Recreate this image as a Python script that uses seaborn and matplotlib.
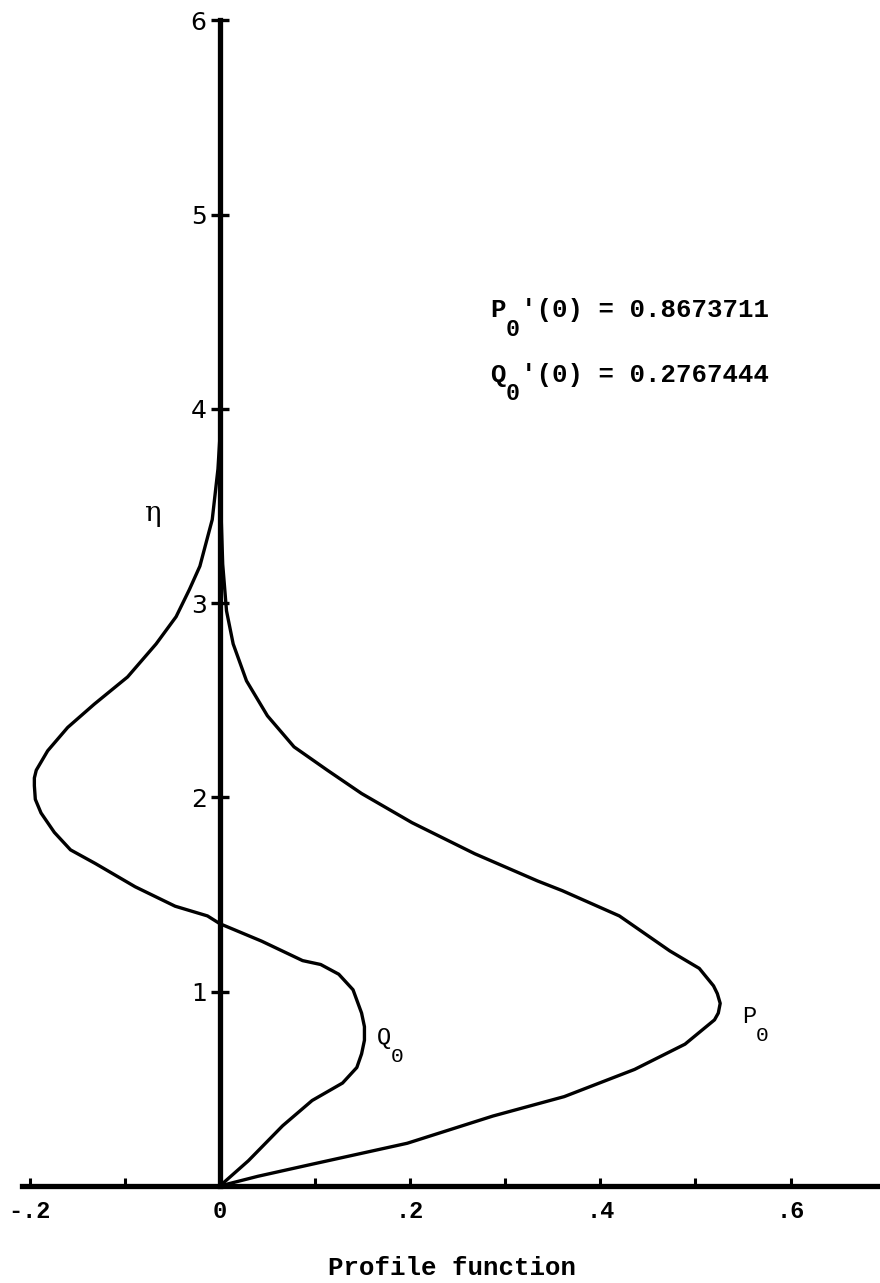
import numpy as np
import pandas as pd
import matplotlib
matplotlib.use("Agg")
import matplotlib.pyplot as plt
import seaborn as sns

# Similarity coordinate eta and the two profile functions P0(eta), Q0(eta)
eta_p = [0.00, 0.05, 0.11, 0.22, 0.36, 0.46, 0.60, 0.73, 0.855, 0.89, 0.94, 0.99,
         1.03, 1.12, 1.21, 1.39, 1.52, 1.57, 1.71, 1.87, 2.02, 2.14, 2.26, 2.42,
         2.60, 2.79, 2.96, 3.20, 3.50, 4.00, 6.00]
p0 = [0.000, 0.040, 0.095, 0.197, 0.287, 0.362, 0.436, 0.489, 0.520, 0.524, 0.526, 0.523,
      0.519, 0.504, 0.473, 0.420, 0.360, 0.334, 0.268, 0.202, 0.149, 0.113, 0.078, 0.050,
      0.028, 0.014, 0.007, 0.003, 0.001, 0.000, 0.000]

eta_q = [0.00, 0.13, 0.31, 0.44, 0.53, 0.61, 0.68, 0.75, 0.82, 0.89, 1.01, 1.09,
         1.14, 1.16, 1.26, 1.35, 1.39, 1.44, 1.54, 1.66, 1.73, 1.82, 1.92, 1.99,
         2.06, 2.10, 2.14, 2.24, 2.36, 2.48, 2.62, 2.79, 2.93, 3.07, 3.19, 3.43,
         3.69, 3.85, 4.50, 6.00]
q0 = [0.000, 0.030, 0.066, 0.097, 0.129, 0.144, 0.149, 0.152, 0.152, 0.149, 0.140, 0.125,
      0.106, 0.087, 0.044, 0.000, -0.013, -0.047, -0.089, -0.131, -0.157, -0.174, -0.188, -0.194,
      -0.195, -0.195, -0.193, -0.181, -0.160, -0.132, -0.097, -0.067, -0.046, -0.032, -0.021, -0.008,
      -0.002, 0.000, 0.000, 0.000]

x_ticks = [-0.2, -0.1, 0.0, 0.1, 0.2, 0.3, 0.4, 0.5, 0.6]
x_tick_labels = ["-.2", "", "0", "", ".2", "", ".4", "", ".6"]
y_ticks = [1, 2, 3, 4, 5, 6]
y_tick_labels = ["1", "2", "3", "4", "5", "6"]

p0_slope_text = "'(0) = 0.8673711"
q0_slope_text = "'(0) = 0.2767444"
x_title = "Profile function"

sns.set_style("ticks")
plt.rcParams["font.family"] = ["Liberation Mono", "DejaVu Sans"]
plt.rcParams.update({
    "text.color": "black",
    "axes.edgecolor": "black",
    "axes.labelcolor": "black",
    "xtick.color": "black",
    "ytick.color": "black",
})

fig = plt.figure(figsize=(8.8, 12.83), dpi=100)
ax = fig.add_axes([22 / 880, (1283 - 1186) / 1283, 858 / 880, (1186 - 10.5) / 1283])

df_p = pd.DataFrame({"eta": eta_p, "value": p0})
df_q = pd.DataFrame({"eta": eta_q, "value": q0})
for df in (df_p, df_q):
    line = sns.lineplot(data=df, x="value", y="eta", orient="y", sort=False, estimator=None,
                        color="black", linewidth=2.4, ax=ax)
for ln in ax.lines:
    ln.set_solid_joinstyle("round")

ax.set_xlim(-0.208, 0.694)
ax.set_ylim(0, 6.05)

# axes drawn as heavy lines: horizontal along eta = 0, vertical along value = 0
for side in ("top", "right"):
    ax.spines[side].set_visible(False)
ax.spines["bottom"].set_linewidth(3.8)
ax.spines["left"].set_position(("data", 0))
ax.spines["left"].set_bounds(0, 6)
ax.spines["left"].set_linewidth(3.8)
ax.spines["left"].set_zorder(5)

ax.set_xticks(x_ticks)
ax.set_xticklabels(x_tick_labels, fontsize=17, fontweight="bold")
ax.tick_params(axis="x", direction="in", length=6, width=2.2, pad=10)
ax.set_yticks(y_ticks)
ax.set_yticklabels(y_tick_labels, fontsize=18, family="DejaVu Sans")
ax.tick_params(axis="y", direction="inout", length=13, width=2.4, pad=3)
ax.set_xlabel("")
ax.set_ylabel("")


def sub_label(x, y, main, sub, rest="", size=18, weight="normal"):
    cw = 0.6 * size
    kw = dict(xycoords="data", textcoords="offset points", va="baseline", ha="left",
              fontweight=weight)
    ax.annotate(main, (x, y), xytext=(0, 0), fontsize=size, **kw)
    ax.annotate(sub, (x, y), xytext=(cw * len(main), -13), fontsize=size * 0.9, **kw)
    if rest:
        ax.annotate(rest, (x, y), xytext=(cw * (len(main) + 1), 0), fontsize=size, **kw)


sub_label(0.284, 4.47, "P", "0", p0_slope_text, size=18.5, weight="bold")
sub_label(0.284, 4.14, "Q", "0", q0_slope_text, size=18.5, weight="bold")
sub_label(0.165, 0.73, "Q", "0", size=17)
sub_label(0.549, 0.84, "P", "0", size=17)

ax.text(-0.0715, 3.46, "η", fontsize=20, family="DejaVu Serif", ha="center", va="center")

fig.text(452 / 880, 1 - 1268 / 1283, x_title, fontsize=18.5, fontweight="bold",
         ha="center", va="center")

fig.savefig("out.png", dpi=100, facecolor="white")
